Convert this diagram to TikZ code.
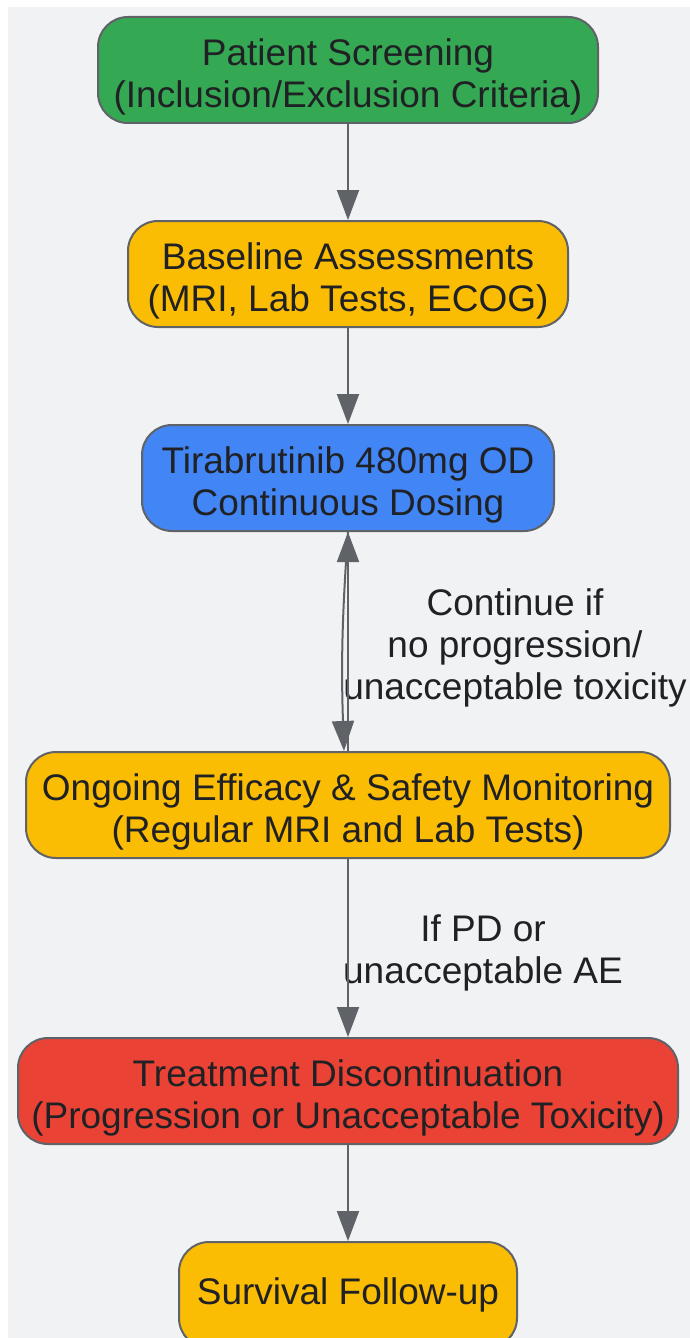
\documentclass[tikz,border=0pt]{standalone}
\usepackage{fontspec}
\setmainfont{Liberation Sans}
\usetikzlibrary{positioning}
\usetikzlibrary{arrows.meta}
\definecolor{bg_grey}{HTML}{F1F2F4}
\definecolor{line_grey}{HTML}{5F6368}
\definecolor{text_dark}{HTML}{202124}
\definecolor{fill_green}{HTML}{34A853}
\definecolor{fill_amber}{HTML}{FBBC04}
\definecolor{fill_blue}{HTML}{4285F4}
\definecolor{fill_red}{HTML}{EA4335}
\newcommand{\lineup}{\rule{0pt}{20pt}}
\tikzset{
	stepnode/.style = {
		rectangle,
		rounded corners=15pt,
		align=center,
		inner sep=0pt,
		draw=line_grey,
		line width=1pt,
		text=text_dark,
		font=\fontsize{18.5}{21}\selectfont,
		minimum height=53pt
	},
	node_green/.style = {
		stepnode,
		fill=fill_green
	},
	node_amber/.style = {
		stepnode,
		fill=fill_amber
	},
	node_blue/.style = {
		stepnode,
		fill=fill_blue
	},
	node_red/.style = {
		stepnode,
		fill=fill_red
	},
	edge_label/.style = {
		align=center,
		inner sep=0pt,
		text=text_dark,
		font=\fontsize{18.5}{21}\selectfont
	},
	flow/.style = {
		->,
		draw=line_grey,
		line width=1pt
	},
}

\begin{document}
\begin{tikzpicture}[x=0.5pt, y=-0.5pt, >={Triangle[length=15pt,width=11pt]}]
\useasboundingbox (0,0) rectangle (690,1338);
\fill[bg_grey] (8,7) rectangle (690,1338);

\node [node_green, minimum width=250pt] (screening) at (348,70) {\lineup Patient Screening\\(Inclusion/Exclusion Criteria)};
\node [node_amber, minimum width=220pt, below=48pt of screening] (baseline) {\lineup Baseline Assessments\\(MRI, Lab Tests, ECOG)};
\node [node_blue, minimum width=206pt, below=48pt of baseline] (dosing) {\lineup Tirabrutinib 480mg OD\\Continuous Dosing};
\node [node_amber, minimum width=322pt, below=109.5pt of dosing] (monitoring) {\lineup Ongoing Efficacy \& Safety Monitoring\\(Regular MRI and Lab Tests)};
\node [node_red, minimum width=330pt, below=89pt of monitoring] (discontinue) {\lineup Treatment Discontinuation\\(Progression or Unacceptable Toxicity)};
\node [node_amber, minimum width=169pt, below=48pt of discontinue] (followup) {Survival Follow-up};

\node [edge_label] (lbl_continue) at (515,648) {Continue if\\no progression/\\unacceptable toxicity};
\node [edge_label] (lbl_pd) at (483,953) {If PD or\\unacceptable AE};

\draw [flow] (screening) -- (baseline);
\draw [flow] (baseline) -- (dosing);
\draw [flow] (dosing.south) to[bend right=3] ([xshift=-2pt]monitoring.north);
\draw [flow] (monitoring.north) -- (dosing.south);
\draw [flow] (monitoring) -- (discontinue);
\draw [flow] (discontinue) -- (followup);
\end{tikzpicture}
\end{document}
